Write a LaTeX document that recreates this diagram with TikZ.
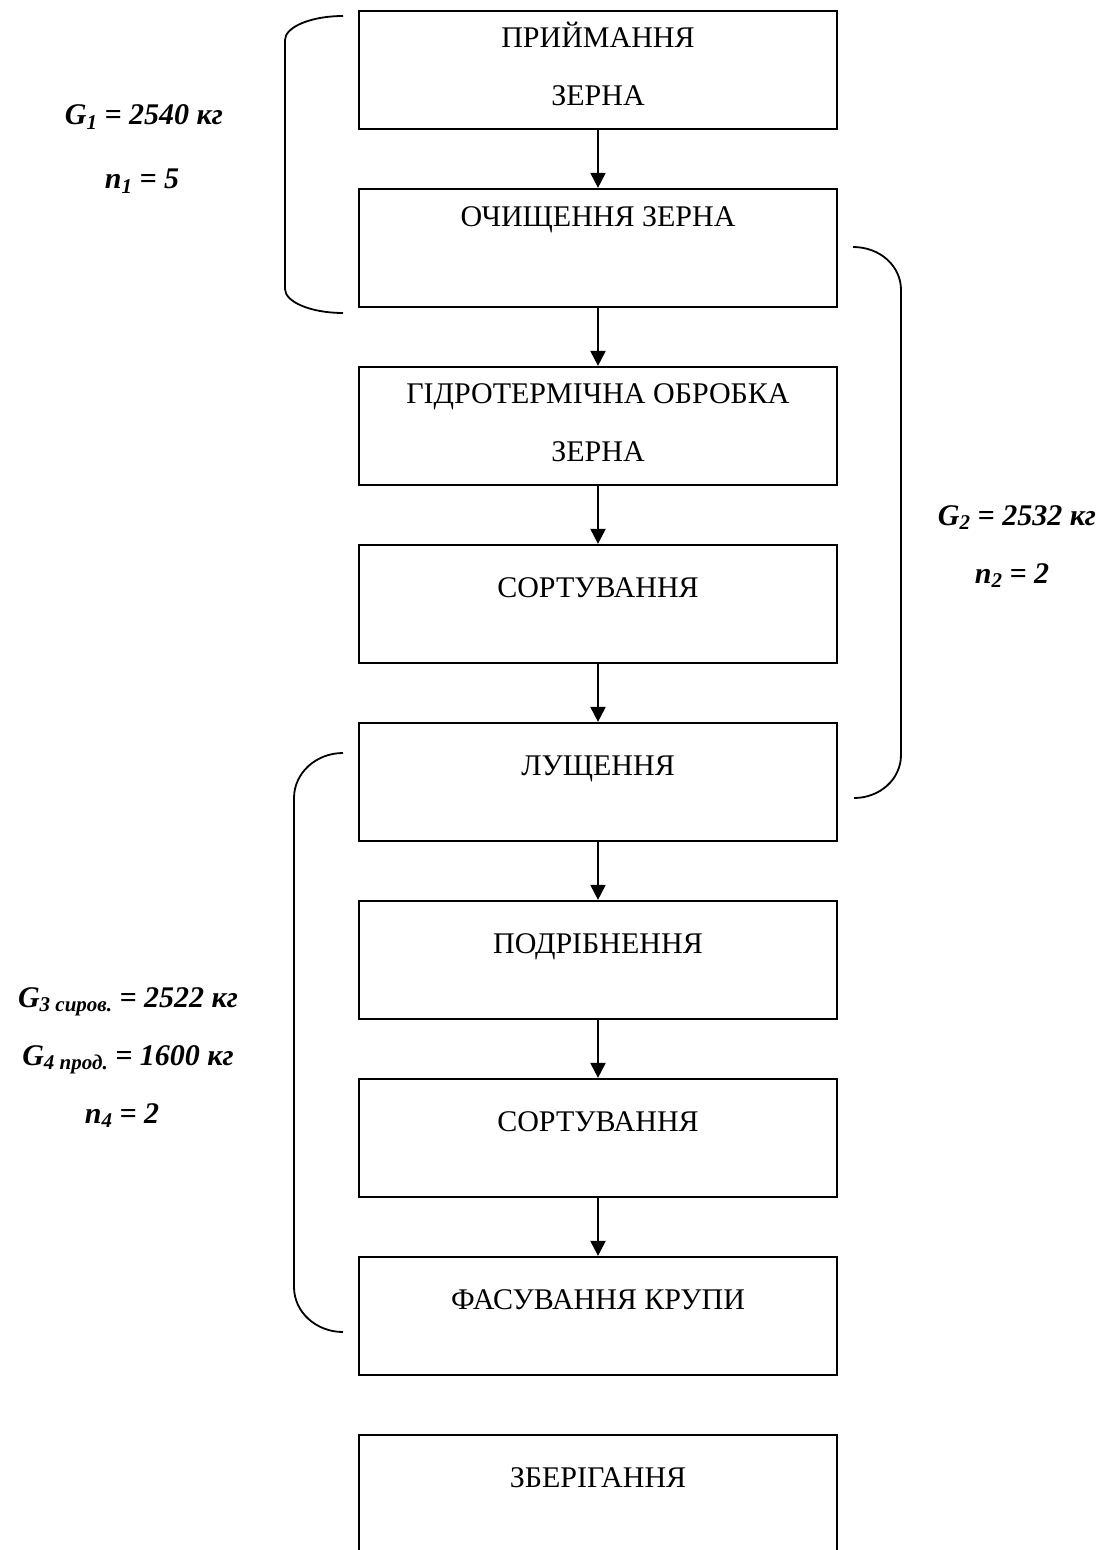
\documentclass[tikz,border=0pt]{standalone}
\usepackage{fontspec}
\setmainfont{Liberation Serif}
\usetikzlibrary{arrows.meta}
\newcommand\lowidx[1]{\raisebox{-2.2pt}{\fontsize{10.5}{12}\selectfont #1}}
\begin{document}
\begin{tikzpicture}[x=0.5pt,y=-0.5pt]

    \tikzset{
      stage/.style={
        draw,
        line width=1.1pt,
        minimum width=239pt,
        minimum height=59pt,
        inner sep=0pt,
      },
      stagetext/.style={anchor=base, align=center, inner sep=0pt, font=\fontsize{15}{29}\selectfont},
      flow/.style={line width=1pt, -{Triangle[length=7.5pt,width=7.5pt]}},
      brace/.style={line width=0.9pt},
      mass/.style={anchor=base, inner sep=0pt, font=\fontsize{15}{18}\selectfont\bfseries\itshape},
    }
    \useasboundingbox (0,0) rectangle (1112,1550);
    \clip (0,0) rectangle (1112,1550);

	\node[stage] (s1) at (598,70) {};
	\node[stage] (s2) at (598,248) {};
	\node[stage] (s3) at (598,426) {};
	\node[stage] (s4) at (598,604) {};
	\node[stage] (s5) at (598,782) {};
	\node[stage] (s6) at (598,960) {};
	\node[stage] (s7) at (598,1138) {};
	\node[stage] (s8) at (598,1316) {};
	\node[stage] (s9) at (598,1494) {};

	\node[stagetext] (t1) at ([yshift=-48pt]s1.north) {ПРИЙМАННЯ\\ЗЕРНА};
	\node[stagetext] (t2) at ([yshift=-19.5pt]s2.north) {ОЧИЩЕННЯ ЗЕРНА};
	\node[stagetext] (t3) at ([yshift=-48pt]s3.north) {ГІДРОТЕРМІЧНА ОБРОБКА\\ЗЕРНА};
	\node[stagetext] (t4) at ([yshift=-27pt]s4.north) {СОРТУВАННЯ};
	\node[stagetext] (t5) at ([yshift=-27pt]s5.north) {ЛУЩЕННЯ};
	\node[stagetext] (t6) at ([yshift=-27pt]s6.north) {ПОДРІБНЕННЯ};
	\node[stagetext] (t7) at ([yshift=-27pt]s7.north) {СОРТУВАННЯ};
	\node[stagetext] (t8) at ([yshift=-27pt]s8.north) {ФАСУВАННЯ КРУПИ};
	\node[stagetext] (t9) at ([yshift=-27pt]s9.north) {ЗБЕРІГАННЯ};

	\draw[flow] (s1) -- (s2);
	\draw[flow] (s2) -- (s3);
	\draw[flow] (s3) -- (s4);
	\draw[flow] (s4) -- (s5);
	\draw[flow] (s5) -- (s6);
	\draw[flow] (s6) -- (s7);
	\draw[flow] (s7) -- (s8);

	\draw[brace] (343,16) .. controls (311,16) and (285,27) .. (285,40) -- (285,289) .. controls (285,302) and (311,313) .. (343,313);
	\draw[brace] (853,247) .. controls (880,247) and (901,266) .. (901,290) -- (901,755) .. controls (901,779) and (880,798) .. (854,798);
	\draw[brace] (343,753) .. controls (316,753) and (294,773) .. (294,798) -- (294,1287) .. controls (294,1312) and (316,1332) .. (343,1332);

	\node[mass] (g1) at (144,125) {G\lowidx{1} = 2540 кг};
	\node[mass] (n1) at (142,189) {n\lowidx{1} = 5};
	\node[mass] (g2) at (1017,525) {G\lowidx{2} = 2532 кг};
	\node[mass] (n2) at (1012,583) {n\lowidx{2} = 2};
	\node[mass] (g3) at (128,1007) {G\lowidx{3 сиров.} = 2522 кг};
	\node[mass] (g4) at (128,1065) {G\lowidx{4 прод.} = 1600 кг};
	\node[mass] (n4) at (122,1123) {n\lowidx{4} = 2};

\end{tikzpicture}
\end{document}
